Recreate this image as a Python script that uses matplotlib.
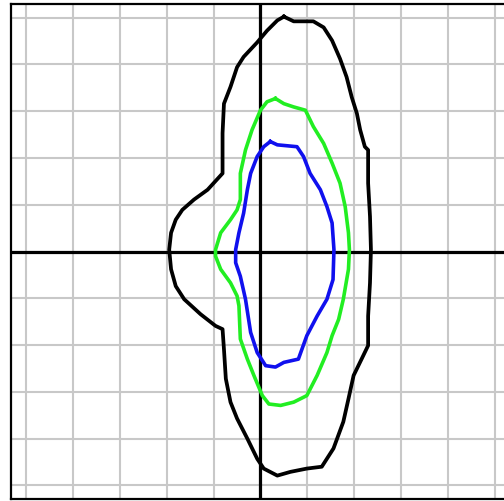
import numpy as np
import matplotlib
matplotlib.use("Agg")
import matplotlib.pyplot as plt

# contour outlines, in grid units (one grid square = 1)
black_x = [0.50, 0.71, 1.13, 1.35, 1.53, 1.70, 1.84, 1.95, 2.06, 2.13, 2.23, 2.30, 2.30, 2.34, 2.36,
           2.34, 2.30, 2.30, 2.16, 1.99, 1.88, 1.77, 1.56, 1.31, 0.99, 0.64, 0.36, 0.07, -0.07, -0.28,
           -0.50, -0.64, -0.74, -0.78, -0.81, -0.96, -1.28, -1.63, -1.81, -1.91, -1.95, -1.91, -1.81,
           -1.67, -1.42, -1.13, -0.81, -0.81, -0.78, -0.64, -0.50, -0.36, -0.07, 0.14, 0.36]
black_y = [5.02, 4.92, 4.92, 4.79, 4.51, 4.12, 3.73, 3.30, 2.95, 2.60, 2.24, 2.17, 1.46, 0.75, 0.04,
           -0.67, -1.38, -2.01, -2.30, -2.65, -3.15, -3.64, -4.21, -4.60, -4.64, -4.71, -4.79, -4.64,
           -4.43, -4.00, -3.57, -3.22, -2.72, -2.09, -1.66, -1.59, -1.34, -1.02, -0.74, -0.38, 0.04,
           0.40, 0.68, 0.89, 1.11, 1.32, 1.67, 2.53, 3.16, 3.52, 3.94, 4.16, 4.47, 4.72, 4.94]

green_x = [0.32, 0.50, 0.71, 0.96, 1.13, 1.35, 1.53, 1.70, 1.81, 1.88, 1.90, 1.88, 1.77, 1.67, 1.53,
           1.42, 1.21, 0.99, 0.71, 0.43, 0.18, 0.04, -0.14, -0.28, -0.43, -0.46, -0.50, -0.64, -0.85,
           -0.96, -0.96, -0.85, -0.64, -0.50, -0.43, -0.43, -0.32, -0.18, 0.00, 0.14]
green_y = [3.27, 3.16, 3.09, 3.02, 2.67, 2.31, 1.89, 1.46, 0.96, 0.40, 0.04, -0.38, -1.02, -1.45, -1.80,
           -2.16, -2.65, -3.08, -3.22, -3.29, -3.26, -3.08, -2.65, -2.30, -1.87, -1.16, -0.95, -0.67,
           -0.38, -0.10, 0.04, 0.40, 0.68, 0.89, 1.11, 1.67, 2.17, 2.60, 3.02, 3.20]

blue_x = [0.21, 0.36, 0.78, 0.92, 1.06, 1.28, 1.42, 1.53, 1.57, 1.55, 1.42, 1.21, 0.99, 0.81, 0.50,
          0.32, 0.11, -0.07, -0.21, -0.32, -0.43, -0.53, -0.53, -0.46, -0.36, -0.28, -0.21, -0.07, 0.07]
blue_y = [2.35, 2.28, 2.24, 2.03, 1.67, 1.32, 0.96, 0.61, 0.04, -0.60, -1.02, -1.38, -1.80, -2.30, -2.37,
          -2.47, -2.44, -2.16, -1.73, -1.02, -0.53, -0.24, 0.04, 0.40, 0.82, 1.32, 1.67, 2.03, 2.24]

grid_ticks = np.arange(-5, 6)

fig = plt.figure(figsize=(5.04, 5.02), dpi=100)
ax = fig.add_axes([0.0218, 0.004, 0.990, 0.986])
ax.set_xlim(-5.33, 5.33)
ax.set_ylim(-5.29, 5.29)

# light grid
for g in grid_ticks:
    ax.axvline(g, color='#c8c8c8', lw=1.5, zorder=1)
    ax.axhline(g, color='#c8c8c8', lw=1.5, zorder=1)

# main axes through origin
ax.axhline(0, color='black', lw=2.3, zorder=2)
ax.axvline(0, color='black', lw=2.3, zorder=2)

def closed(xs, ys):
    return list(xs) + [xs[0]], list(ys) + [ys[0]]

bx, by = closed(black_x, black_y)
gx, gy = closed(green_x, green_y)
ux, uy = closed(blue_x, blue_y)
ax.plot(bx, by, color='black', lw=2.7, zorder=3)
ax.plot(gx, gy, color='#22ee22', lw=2.6, zorder=3)
ax.plot(ux, uy, color='#1010ee', lw=2.6, zorder=3)

ax.set_xticks([])
ax.set_yticks([])
for side in ['left', 'top', 'bottom']:
    ax.spines[side].set_linewidth(1.6)
    ax.spines[side].set_color('black')
ax.spines['right'].set_visible(False)

fig.savefig('out.png', dpi=100)
